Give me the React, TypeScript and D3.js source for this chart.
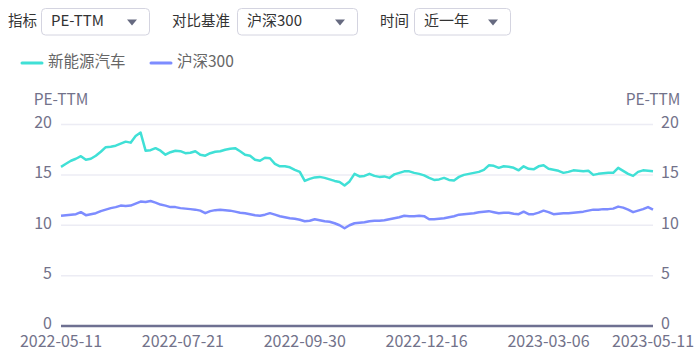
import React from "react";
import * as d3 from "d3";

const seriesNames = ["新能源汽车", "沪深300"];
const seriesColors = ["#40e0d6", "#7d8cff"];

const nevValues = [
  15.8, 16.1, 16.4, 16.6, 16.85, 16.5, 16.6, 16.9, 17.3, 17.75,
  17.8, 17.9, 18.1, 18.3, 18.2, 18.85, 19.2, 17.4, 17.45, 17.65,
  17.4, 17.0, 17.25, 17.4, 17.35, 17.15, 17.2, 17.35, 17.0, 16.9,
  17.15, 17.3, 17.35, 17.5, 17.6, 17.65, 17.35, 17.0, 16.9, 16.5,
  16.4, 16.7, 16.65, 16.1, 15.85, 15.85, 15.75, 15.5, 15.3, 14.4,
  14.6, 14.75, 14.8, 14.7, 14.55, 14.4, 14.3, 13.95, 14.35, 15.1,
  14.85, 14.9, 15.1, 14.9, 14.8, 14.85, 14.7, 15.05, 15.2, 15.35,
  15.35, 15.2, 15.1, 14.95, 14.7, 14.5, 14.55, 14.7, 14.5, 14.45,
  14.8, 15.0, 15.1, 15.2, 15.3, 15.5, 15.95, 15.9, 15.7, 15.85,
  15.8, 15.7, 15.45, 15.85, 15.6, 15.55, 15.85, 15.95, 15.6, 15.5,
  15.4, 15.2, 15.3, 15.45, 15.4, 15.35, 15.4, 15.0, 15.1, 15.15,
  15.2, 15.2, 15.7, 15.4, 15.1, 14.9, 15.3, 15.45, 15.4, 15.35,
];

const hs300Values = [
  10.95, 11.0, 11.05, 11.1, 11.3, 11.0, 11.1, 11.2, 11.4, 11.55,
  11.7, 11.8, 11.95, 11.9, 11.95, 12.15, 12.35, 12.3, 12.4, 12.25,
  12.05, 11.95, 11.8, 11.8, 11.7, 11.65, 11.6, 11.55, 11.45, 11.2,
  11.4, 11.5, 11.55, 11.5, 11.45, 11.35, 11.25, 11.2, 11.1, 11.0,
  10.95, 11.05, 11.2, 11.05, 10.9, 10.8, 10.7, 10.65, 10.55, 10.4,
  10.45, 10.6, 10.5, 10.4, 10.35, 10.2, 10.0, 9.7, 10.0, 10.2,
  10.25, 10.3, 10.4, 10.45, 10.45, 10.5, 10.6, 10.7, 10.8, 10.95,
  10.9, 10.9, 10.95, 10.9, 10.6, 10.6, 10.65, 10.7, 10.8, 10.9,
  11.05, 11.1, 11.15, 11.2, 11.3, 11.35, 11.4, 11.3, 11.2, 11.25,
  11.25, 11.15, 11.1, 11.35, 11.1, 11.1, 11.25, 11.45, 11.3, 11.1,
  11.15, 11.2, 11.2, 11.25, 11.3, 11.35, 11.45, 11.55, 11.55, 11.6,
  11.6, 11.65, 11.85, 11.75, 11.55, 11.3, 11.45, 11.6, 11.8, 11.55,
];

// trading-day index of each sample (every second trading day)
const sampleStep = 2;
const tickLabels = ["2022-05-11", "2022-07-21", "2022-09-30", "2022-12-16", "2023-03-06", "2023-05-11"];
const tickIndex = [0, 49, 98, 147, 196, 238];
const yTicks = [0, 5, 10, 15, 20];
const axisName = "PE-TTM";

const controls = [
  { label: "指标", value: "PE-TTM", lx: 8, bx: 41, bw: 108 },
  { label: "对比基准", value: "沪深300", lx: 172, bx: 237, bw: 120 },
  { label: "时间", value: "近一年", lx: 380, bx: 414, bw: 96 },
];

const W = 700;
const H = 360;
const left = 61;
const right = 653;
const top = 124.5;
const bottom = 326;
const FONT = "'Noto Sans CJK SC', 'Noto Sans', sans-serif";
const GREY = "#72728a";

export default function App() {
  const x = d3.scaleLinear().domain([0, 238]).range([left, right]);
  const y = d3.scaleLinear().domain([0, 20]).range([bottom, top]);
  const line = d3
    .line<number>()
    .x((_, i) => x(i * sampleStep))
    .y((d) => y(d))
    .curve(d3.curveLinear);
  const all = [nevValues, hs300Values];

  return (
    <svg
      width={W}
      height={H}
      style={{ position: "absolute", left: 0, top: 0, background: "#fff" }}
      fontFamily={FONT}
    >
      {controls.map((c, i) => (
        <g key={i}>
          <text x={c.lx} y={22} fontSize={14.5} fill="#333" dominantBaseline="middle">
            {c.label}
          </text>
          <rect x={c.bx + 0.5} y={8.5} width={c.bw} height={26.5} rx={4} fill="#fff" stroke="#d4d4e0" />
          <text x={c.bx + 10} y={22} fontSize={15} fill="#333" dominantBaseline="middle">
            {c.value}
          </text>
          <path
            d={`M${c.bx + c.bw - 22},${19.5} l10,0 l-5,6 z`}
            fill="#666a80"
          />
        </g>
      ))}

      {seriesNames.map((n, i) => {
        const lx = i === 0 ? 22 : 151;
        return (
          <g key={n}>
            <line x1={lx} x2={lx + 20} y1={63} y2={63} stroke={seriesColors[i]} strokeWidth={3} strokeLinecap="round" />
            <text x={lx + 26} y={63} fontSize={15.5} fill="#666" dominantBaseline="middle">
              {n}
            </text>
          </g>
        );
      })}

      <text x={left} y={105} fontSize={15.5} fill={GREY} textAnchor="middle">
        {axisName}
      </text>
      <text x={right} y={105} fontSize={15.5} fill={GREY} textAnchor="middle">
        {axisName}
      </text>

      {yTicks.map((t) => (
        <g key={t}>
          {t > 0 && (
            <line x1={left} x2={right} y1={y(t)} y2={y(t)} stroke="#ececf4" strokeWidth={1.5} />
          )}
          <text x={52} y={y(t) - 1} fontSize={16} fill={GREY} textAnchor="end" dominantBaseline="middle">
            {t}
          </text>
          <text x={661} y={y(t) - 1} fontSize={16} fill={GREY} textAnchor="start" dominantBaseline="middle">
            {t}
          </text>
        </g>
      ))}

      <line x1={left} x2={right} y1={bottom} y2={bottom} stroke="#6e7091" strokeWidth={2.5} />

      {tickLabels.map((l, i) => (
        <text key={l} x={x(tickIndex[i])} y={343} fontSize={16} fill={GREY} textAnchor="middle" dominantBaseline="middle">
          {l}
        </text>
      ))}

      {all.map((vals, i) => (
        <path key={i} d={line(vals) || ""} fill="none" stroke={seriesColors[i]} strokeWidth={2.5} strokeLinejoin="round" />
      ))}
    </svg>
  );
}
